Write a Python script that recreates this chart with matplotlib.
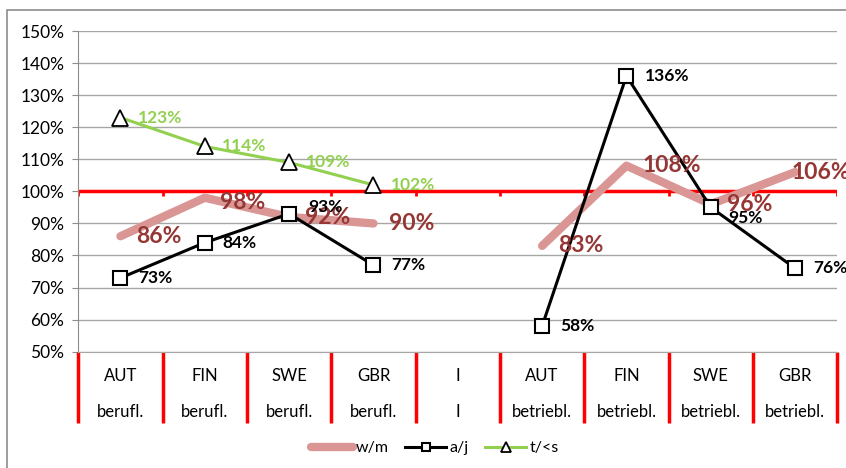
import matplotlib
matplotlib.use('Agg')
import matplotlib.pyplot as plt
import matplotlib.transforms as mtrans
from matplotlib.patches import Rectangle
import numpy as np

plt.rcParams['font.family'] = ['Lato', 'DejaVu Sans']

# data
categories = ['AUT', 'FIN', 'SWE', 'GBR', 'I', 'AUT', 'FIN', 'SWE', 'GBR']
groups = ['berufl.', 'berufl.', 'berufl.', 'berufl.', 'I',
          'betriebl.', 'betriebl.', 'betriebl.', 'betriebl.']
wm = [0.86, 0.98, 0.92, 0.90, np.nan, 0.83, 1.08, 0.96, 1.06]
aj = [0.73, 0.84, 0.93, 0.77, np.nan, 0.58, 1.36, 0.95, 0.76]
ts = [1.23, 1.14, 1.09, 1.02, np.nan, np.nan, np.nan, np.nan, np.nan]
yticks = [0.5, 0.6, 0.7, 0.8, 0.9, 1.0, 1.1, 1.2, 1.3, 1.4, 1.5]

W, H = 846, 468
fig = plt.figure(figsize=(W / 100, H / 100), dpi=100)
ax = fig.add_axes([78.3 / W, 1 - 351.7 / H, (837.3 - 78.3) / W, (351.7 - 31) / H])

# chart border (cut off at right/bottom in the reference)
fig.patches.append(Rectangle((7 / W, -0.05), 1.2, 1 - 10 / H + 0.05,
                             transform=fig.transFigure, fill=False,
                             edgecolor='#8c8c8c', lw=1.2))

x = np.arange(len(categories))
bounds = np.arange(len(categories) + 1) - 0.5

ax.set_xlim(-0.5, len(categories) - 0.5)
ax.set_ylim(0.5, 1.5)
ax.set_yticks(yticks)
ax.set_yticklabels(['{:.0f}%'.format(v * 100) for v in yticks], fontsize=12.5)
ax.tick_params(axis='y', length=4, color='#8c8c8c', pad=6)
ax.set_xticks([])
ax.grid(axis='y', color='#a6a6a6', lw=1)
ax.set_axisbelow(True)
for s in ['top', 'right']:
    ax.spines[s].set_visible(False)
ax.spines['left'].set_color('#8c8c8c')
ax.spines['bottom'].set_color('#a6a6a6')

# red horizontal axis at 100% with small tick marks
ax.axhline(1.0, color='#ff0000', lw=2.5, zorder=1.5)
ax.vlines(bounds, 1.0 - 0.016, 1.0, color='#ff0000', lw=2, zorder=1.5)

# multi-level category labels with red separators
trans = mtrans.blended_transform_factory(ax.transData, ax.transAxes)
ax.vlines(bounds, -0.222, 0, color='#ff0000', lw=2.5, transform=trans, clip_on=False)
for xi, c, g in zip(x, categories, groups):
    ax.text(xi, -0.075, c, transform=trans, ha='center', va='center', fontsize=12)
    ax.text(xi, -0.187, g, transform=trans, ha='center', va='center', fontsize=12)

ax.plot(x, wm, color='#d99694', lw=6, solid_capstyle='round', zorder=2, label='w/m')
ax.plot(x, aj, color='black', lw=2.2, marker='s', markersize=10,
        markerfacecolor='white', markeredgecolor='black', markeredgewidth=1.5,
        zorder=3, label='a/j')
ax.plot(x, ts, color='#92d050', lw=2.2, marker='^', markersize=11,
        markerfacecolor='white', markeredgecolor='black', markeredgewidth=1.3,
        zorder=4, label='t/<s')

# data labels
aj_off = {2: (19, 7), 7: (17, -11)}
wm_off = {1: (15, -5), 8: (-4, 0)}
for xi, v in zip(x, wm):
    if not np.isnan(v):
        dx, dy = wm_off.get(xi, (16, 0))
        ax.annotate('{:.0f}%'.format(v * 100), (xi, v), xytext=(dx, dy),
                    textcoords='offset pixels', va='center', ha='left',
                    fontsize=16.5, fontweight='bold', color='#953735', zorder=5)
for xi, v in zip(x, aj):
    if not np.isnan(v):
        dx, dy = aj_off.get(xi, (18, 0))
        ax.annotate('{:.0f}%'.format(v * 100), (xi, v), xytext=(dx, dy),
                    textcoords='offset pixels', va='center', ha='left',
                    fontsize=12.5, fontweight='bold', color='black', zorder=5)
for xi, v in zip(x, ts):
    if not np.isnan(v):
        ax.annotate('{:.0f}%'.format(v * 100), (xi, v), xytext=(17, 0),
                    textcoords='offset pixels', va='center', ha='left',
                    fontsize=12.5, fontweight='bold', color='#92d050', zorder=5)

fig.legend(loc='center', bbox_to_anchor=(435 / W, 1 - 448 / H), ncol=3,
           frameon=False, fontsize=11.5, handlelength=2.6, columnspacing=1.0,
           handletextpad=0.2, markerscale=0.6)

plt.savefig('out.png', dpi=100)
